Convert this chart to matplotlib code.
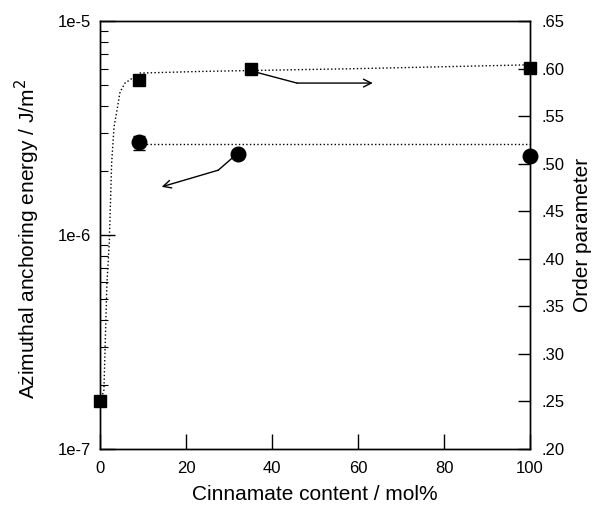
import matplotlib
matplotlib.use("Agg")
import matplotlib.pyplot as plt
from matplotlib.ticker import FuncFormatter, NullFormatter, LogLocator, MultipleLocator
import numpy as np

plt.rcParams['font.family'] = ['Liberation Sans', 'DejaVu Sans']

# order parameter (squares, right axis)
x_order = [0, 9, 35, 100]
order = [0.25, 0.588, 0.600, 0.601]

# dotted guide curve through the order parameter
fit_x = [0, 0.8, 1.5, 2.05, 2.6, 3.15, 3.85, 4.55, 5.7, 9.2, 23, 35, 60, 100]
fit_order = [0.25, 0.262, 0.3745, 0.4166, 0.5007, 0.5385, 0.5564, 0.5753,
             0.5848, 0.5953, 0.597, 0.598, 0.600, 0.604]

# azimuthal anchoring energy (circles, left axis)
x_energy = [9, 32, 100]
energy = [2.71e-6, 2.38e-6, 2.35e-6]
energy_err = [0.2e-6, 0, 0]
energy_line_x = [9, 100]
energy_line = [2.65e-6, 2.65e-6]

fig = plt.figure(figsize=(5.97, 5.14), dpi=100)
ax = fig.add_axes([0.1683, 0.1265, 0.7195, 0.8325])
ax2 = ax.twinx()

# left axis: energy
ax.set_yscale('log')
ax.set_ylim(1e-7, 1e-5)
ax.set_xlim(0, 100)
ax.plot(energy_line_x, energy_line, ':', color='k', lw=1.0)
ax.errorbar(x_energy, energy, yerr=energy_err, fmt='o', color='k', ms=10.5,
            capsize=4, elinewidth=1, clip_on=False, zorder=5)
# arrow pointing to left axis
ax.plot([30.55, 27.43], [2.28e-6, 2.01e-6], color='k', lw=1.0)
ax.annotate('', xy=(14.25, 1.68e-6), xytext=(27.43, 2.01e-6),
            arrowprops=dict(arrowstyle='->', color='k', lw=1.0,
                            shrinkA=0, shrinkB=0, mutation_scale=14))

ax.yaxis.set_major_locator(LogLocator(base=10))
ax.yaxis.set_major_formatter(FuncFormatter(lambda v, p: "1e%d" % round(np.log10(v))))
ax.yaxis.set_minor_locator(LogLocator(base=10, subs=np.arange(2, 10)))
ax.yaxis.set_minor_formatter(NullFormatter())
ax.xaxis.set_major_locator(MultipleLocator(20))
ax.tick_params(axis='both', which='major', direction='in', length=11, width=1,
               labelsize=12, top=False, right=False)
ax.tick_params(axis='y', which='minor', direction='in', length=6, width=0.8)
ax.tick_params(axis='x', pad=9)
ax.tick_params(axis='y', pad=7)
ax.set_xlabel('Cinnamate content / mol%', fontsize=15, labelpad=6)
ax.set_ylabel('Azimuthal anchoring energy / J/m$^2$', fontsize=15)
ax.yaxis.set_label_coords(-0.135, 0.49)

# right axis: order parameter
ax2.set_ylim(0.20, 0.65)
ax2.plot(fit_x, fit_order, ':', color='k', lw=1.0)
ax2.plot(x_order, order, 's', color='k', ms=8.8, clip_on=False, zorder=5)
# arrow pointing to right axis
ax2.plot([36.4, 45.75], [0.596, 0.5848], color='k', lw=1.0)
ax2.annotate('', xy=(63.4, 0.5848), xytext=(45.75, 0.5848),
             arrowprops=dict(arrowstyle='->', color='k', lw=1.0,
                             shrinkA=0, shrinkB=0, mutation_scale=14))
ax2.yaxis.set_major_locator(MultipleLocator(0.05))
ax2.yaxis.set_major_formatter(FuncFormatter(lambda v, p: ("%.2f" % v)[1:]))
ax2.tick_params(axis='y', direction='in', length=9, width=1, labelsize=12, pad=8)
ax2.set_ylabel('Order parameter', fontsize=15, labelpad=6)

for a in (ax, ax2):
    for s in a.spines.values():
        s.set_linewidth(1.0)

fig.savefig('out.png', dpi=100)
